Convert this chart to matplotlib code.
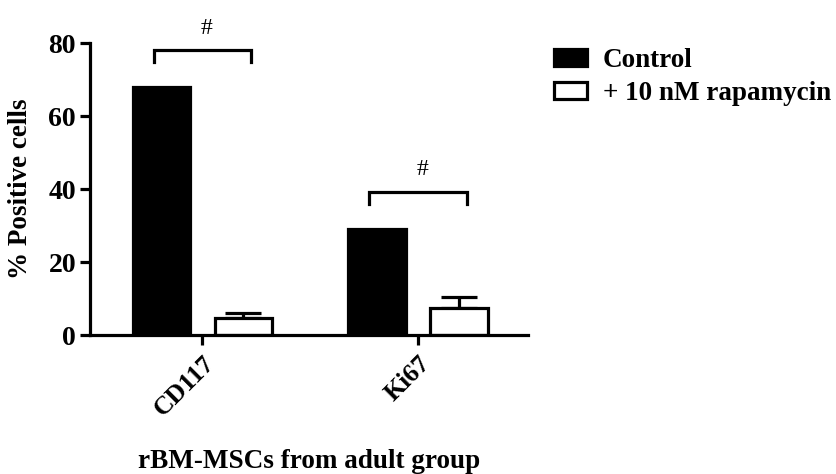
import numpy as np
import matplotlib
matplotlib.use("Agg")
import matplotlib.pyplot as plt

plt.rcParams['font.family'] = ['Liberation Serif', 'DejaVu Serif']
plt.rcParams['font.weight'] = 'bold'

# data
categories = ["CD117", "Ki67"]
control = [68.0, 29.0]
rapa = [4.7, 7.5]
rapa_err = [1.3, 3.0]
series_labels = ["Control", "+ 10 nM rapamycin"]
bracket_y = [78.0, 39.2]
bracket_leg = 3.3

x = np.arange(len(categories))
w = 0.265
off = 0.19

fig = plt.figure(figsize=(8.37, 4.74), dpi=100)
ax = fig.add_axes([0.1075, 0.2932, 0.5235, 0.616])

lw = 2.3
ax.bar(x - off, control, w, color='black', edgecolor='black', linewidth=lw,
       label=series_labels[0], zorder=2)
ax.bar(x + off, rapa, w, color='white', edgecolor='black', linewidth=lw,
       label=series_labels[1], zorder=2)
ax.errorbar(x + off, rapa, yerr=[np.zeros(len(rapa)), rapa_err], fmt='none',
            ecolor='black', elinewidth=lw, capsize=13, capthick=lw, zorder=1)

# significance brackets
for xi, by in zip(x, bracket_y):
    x0, x1 = xi - off - 0.035, xi + off + 0.035
    ax.plot([x0, x0, x1, x1], [by - bracket_leg, by, by, by - bracket_leg],
            color='black', lw=lw, clip_on=False, solid_joinstyle='miter')
    ax.text(xi + 0.02, by + 3.2, "#", ha='center', va='bottom', fontsize=17,
            fontweight='normal')

ax.set_ylim(0, 80)
ax.set_xlim(-0.52, 1.51)
ax.set_yticks([0, 20, 40, 60, 80])
ax.set_xticks(x)
ax.set_xticklabels(categories, rotation=45, ha='right', rotation_mode='anchor')
ax.tick_params(axis='y', labelsize=20, width=lw, length=7, pad=3)
ax.tick_params(axis='x', labelsize=18.5, width=lw, length=7, pad=5)

for s in ['top', 'right']:
    ax.spines[s].set_visible(False)
for s in ['left', 'bottom']:
    ax.spines[s].set_linewidth(lw)

ax.set_ylabel("% Positive cells", fontsize=19.5, fontweight='bold')
ax.yaxis.set_label_coords(-0.13, 0.5)
ax.set_xlabel("rBM-MSCs from adult group", fontsize=19.5, fontweight='bold')
ax.xaxis.set_label_coords(0.5, -0.39)

ax.legend(loc='upper left', bbox_to_anchor=(1.035, 1.02), frameon=False,
          fontsize=19.5, handlelength=1.2, handleheight=0.6, labelspacing=0.3,
          handletextpad=0.6, borderaxespad=0)

fig.savefig("out.png", dpi=100)
